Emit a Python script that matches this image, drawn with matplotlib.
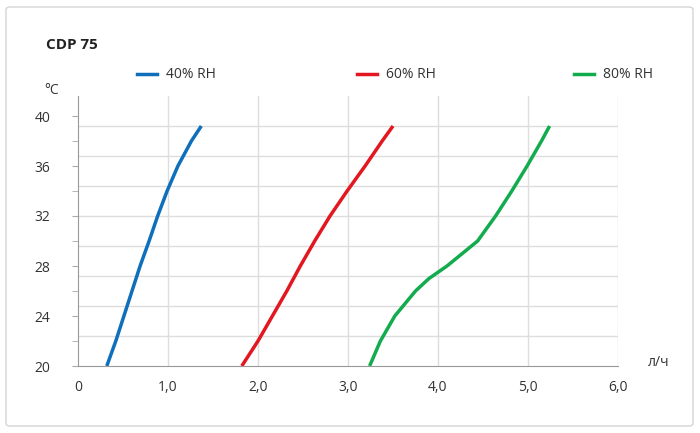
import matplotlib
matplotlib.use("Agg")
import matplotlib.pyplot as plt
import numpy as np
from matplotlib.patches import FancyBboxPatch

plt.rcParams['font.family'] = ['Open Sans', 'DejaVu Sans']

title = "CDP 75"
series_names = ["40% RH", "60% RH", "80% RH"]
colors = ["#0f6fba", "#e3171f", "#12ab4e"]
t40 = [20, 22, 24, 26, 28, 30, 32, 34, 36, 38, 39.2]
x40 = [0.32, 0.42, 0.51, 0.60, 0.69, 0.79, 0.885, 0.99, 1.11, 1.26, 1.37]
t60 = [20, 22, 24, 26, 28, 30, 32, 34, 36, 38, 39.2]
x60 = [1.82, 2.0, 2.16, 2.32, 2.47, 2.63, 2.80, 2.99, 3.19, 3.38, 3.50]
t80 = [20, 22, 24, 26, 27, 28, 30, 32, 34, 36, 38, 39.2]
x80 = [3.24, 3.36, 3.52, 3.75, 3.90, 4.10, 4.44, 4.64, 4.82, 4.99, 5.15, 5.24]
xticks = [0, 1, 2, 3, 4, 5, 6]
xticklabels = ["0", "1,0", "2,0", "3,0", "4,0", "5,0", "6,0"]
yticks = [20, 24, 28, 32, 36, 40]

W, H = 700, 433
fig = plt.figure(figsize=(7, 4.33), dpi=100)
card = FancyBboxPatch((6/W, 7/H), 687/W, 419/H, boxstyle="round,pad=0,rounding_size=0.006",
                      transform=fig.transFigure, fc="none", ec="#d5d5d5", lw=1, zorder=-5)
fig.patches.append(card)
ax = fig.add_axes([78/W, (H-366)/H, 540/W, 270/H])
ax.patch.set_alpha(0)
ax.set_xlim(0, 6)
ax.set_ylim(20, 20 + 270/12.5)
for i, (xs, ts) in enumerate([(x40, t40), (x60, t60), (x80, t80)]):
    ax.plot(xs, ts, color=colors[i], lw=2.5, label=series_names[i], solid_capstyle='butt')
ax.set_xticks(xticks)
ax.set_xticklabels(xticklabels)
ax.set_yticks(yticks)
ax.set_yticks(np.arange(22, 40, 4), minor=True)
for g in 20 + 2.4*np.arange(1, 9):
    ax.axhline(g, color="#dddddd", lw=1, zorder=0)
for xv in xticks[1:]:
    ax.axvline(xv, color="#dddddd", lw=1, zorder=0)
for s in ["top", "right"]:
    ax.spines[s].set_visible(False)
for s in ["left", "bottom"]:
    ax.spines[s].set_color("#999999")
ax.tick_params(axis='x', length=0, pad=10, labelsize=10, labelcolor="#333333")
ax.tick_params(axis='y', which='both', length=4, color="#aaaaaa", pad=16, labelsize=10, labelcolor="#333333")
fig.text(46/W, 1-45/H, title, fontsize=11, fontweight='bold', color="#222222", va='center')
fig.text(44/W, 1-90/H, "°C", fontsize=10, color="#333333", va='center')
fig.text(648/W, 1-362/H, "л/ч", fontsize=10, color="#333333", va='center')
leg_x = [137, 357, 574]
for i in range(3):
    fig.lines.append(plt.Line2D([leg_x[i]/W, (leg_x[i]+20)/W], [1-74/H]*2, color=colors[i], lw=2.5,
                                transform=fig.transFigure))
    fig.text((leg_x[i]+29)/W, 1-74/H, series_names[i], fontsize=10, color="#333333", va='center')
fig.savefig("out.png", dpi=100)
